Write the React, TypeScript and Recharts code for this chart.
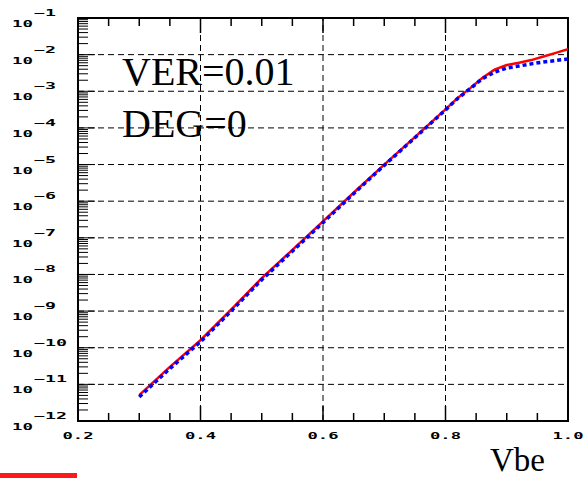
import {
  LineChart,
  Line,
  XAxis,
  YAxis,
  ReferenceLine,
  ReferenceArea,
} from 'recharts';

// Vbe sweep points (V)
const vbe = [
  0.3, 0.35, 0.4, 0.45, 0.5, 0.55, 0.6, 0.65, 0.7, 0.75, 0.8, 0.82, 0.84,
  0.86, 0.88, 0.9, 0.92, 0.94, 0.96, 0.98, 1.0,
];
// measured current (red, solid)
const measured = [
  5.1e-12, 3.0e-11, 1.6e-10, 1.1e-9, 7.9e-9, 4.7e-8, 2.8e-7, 1.7e-6, 1.0e-5,
  5.6e-5, 3.2e-4, 6.6e-4, 1.2e-3, 2.3e-3, 3.9e-3, 5.2e-3, 6.0e-3, 7.1e-3,
  8.9e-3, 1.12e-2, 1.41e-2,
];
// simulated current (blue, dotted)
const simulated = [
  4.5e-12, 2.7e-11, 1.45e-10, 1.0e-9, 7.2e-9, 4.3e-8, 2.6e-7, 1.6e-6, 9.5e-6,
  5.4e-5, 3.1e-4, 6.4e-4, 1.17e-3, 2.2e-3, 3.3e-3, 4.3e-3, 4.9e-3, 5.6e-3,
  6.3e-3, 6.9e-3, 7.6e-3,
];

const xTicks = [
  0.2, 0.25, 0.3, 0.35, 0.4, 0.45, 0.5, 0.55, 0.6, 0.65, 0.7, 0.75, 0.8, 0.85,
  0.9, 0.95, 1.0,
];
const xMajor = [0.2, 0.4, 0.6, 0.8, 1.0];
const xLabels = ['0.2', '0.4', '0.6', '0.8', '1.0'];
const xGrid = [0.4, 0.6, 0.8];

const decades = [-12, -11, -10, -9, -8, -7, -6, -5, -4, -3, -2, -1];
const mantissas = [2, 3, 4, 5, 6, 7, 8, 9];
const yGrid = [1e-11, 1e-10, 1e-9, 1e-8, 1e-7, 1e-6, 1e-5, 1e-4, 1e-3, 1e-2];

const yTicks: number[] = [];
decades.forEach((e) => {
  yTicks.push(Number(Math.pow(10, e).toPrecision(3)));
  if (e < -1) {
    mantissas.forEach((m) => yTicks.push(Number((m * Math.pow(10, e)).toPrecision(3))));
  }
});

const chartData = vbe.map((v, i) => ({
  vbe: v,
  measured: measured[i],
  simulated: simulated[i],
}));

const W = 583;
const H = 479;
const PLOT_LEFT = 78;
const PLOT_TOP = 18;
const PLOT_RIGHT = 568;
const PLOT_BOTTOM = 421;

const tickFont = {
  fontFamily: 'DejaVu Sans Mono',
  fontWeight: 'bold' as const,
  fontSize: 9,
  fill: '#000',
};

const XTick = (props: any) => {
  const { payload } = props;
  const x = payload.coordinate;
  const idx = xMajor.findIndex((m) => Math.abs(m - payload.value) < 1e-6);
  const major = idx >= 0;
  const len = major ? 15 : 8;
  return (
    <g>
      <line x1={x} x2={x} y1={PLOT_BOTTOM} y2={PLOT_BOTTOM - len} stroke="#000" strokeWidth={1.5} />
      <line x1={x} x2={x} y1={PLOT_TOP} y2={PLOT_TOP + len} stroke="#000" strokeWidth={1.5} />
      {major && (
        <text
          x={x - 15.5}
          y={439}
          textLength={31}
          lengthAdjust="spacingAndGlyphs"
          {...tickFont}
        >
          {xLabels[idx]}
        </text>
      )}
    </g>
  );
};

const YTick = (props: any) => {
  const { payload } = props;
  const y = payload.coordinate;
  const exp = Math.log10(payload.value);
  const isDecade = Math.abs(exp - Math.round(exp)) < 1e-6;
  const len = isDecade ? 17 : 10;
  const expText = '\u2212' + String(-Math.round(exp));
  return (
    <g>
      <line x1={PLOT_LEFT} x2={PLOT_LEFT + len} y1={y} y2={y} stroke="#000" strokeWidth={1} />
      {isDecade && (
        <>
          <text x={12} y={y + 9} textLength={21} lengthAdjust="spacingAndGlyphs" {...tickFont}>
            10
          </text>
          <text
            x={34}
            y={y - 2}
            textLength={expText.length * 11}
            lengthAdjust="spacingAndGlyphs"
            {...tickFont}
          >
            {expText}
          </text>
        </>
      )}
    </g>
  );
};

const App = () => {
  return (
    <div
      style={{
        position: 'absolute',
        left: 0,
        top: 0,
        width: W,
        height: H,
        background: '#fff',
        overflow: 'hidden',
      }}
    >
      <LineChart
        width={W}
        height={H}
        data={chartData}
        margin={{ top: PLOT_TOP, right: W - PLOT_RIGHT, left: 0, bottom: 0 }}
      >
        <XAxis
          dataKey="vbe"
          type="number"
          domain={[0.2, 1.0]}
          ticks={xTicks}
          interval={0}
          allowDataOverflow
          axisLine={false}
          tickLine={false}
          height={H - PLOT_BOTTOM}
          tick={<XTick />}
        />
        <YAxis
          type="number"
          scale="log"
          domain={[1e-12, 1e-1]}
          ticks={yTicks}
          interval={0}
          allowDataOverflow
          axisLine={false}
          tickLine={false}
          width={PLOT_LEFT}
          tick={<YTick />}
        />
        {yGrid.map((g) => (
          <ReferenceLine key={'h' + g} y={g} stroke="#000" strokeWidth={1} strokeDasharray="6 4" />
        ))}
        {xGrid.map((g) => (
          <ReferenceLine key={'v' + g} x={g} stroke="#000" strokeWidth={1} strokeDasharray="6 4" />
        ))}
        <ReferenceArea
          x1={0.2}
          x2={1.0}
          y1={1e-12}
          y2={1e-1}
          fill="none"
          fillOpacity={0}
          stroke="#000"
          strokeWidth={2}
        />
        <Line
          type="linear"
          dataKey="measured"
          stroke="#ff0000"
          strokeWidth={2.5}
          dot={false}
          isAnimationActive={false}
        />
        <Line
          type="linear"
          dataKey="simulated"
          stroke="#0000ff"
          strokeWidth={3.5}
          strokeDasharray="4 3"
          dot={false}
          isAnimationActive={false}
        />
      </LineChart>
      <svg
        width={W}
        height={H}
        style={{ position: 'absolute', left: 0, top: 0, pointerEvents: 'none' }}
      >
        <text x={122} y={85} fontFamily="Liberation Serif" fontSize={40} fill="#000">
          VER=0.01
        </text>
        <text x={122} y={137} fontFamily="Liberation Serif" fontSize={40} fill="#000">
          DEG=0
        </text>
        <text x={490} y={471} fontFamily="Liberation Serif" fontSize={33} fill="#000">
          Vbe
        </text>
        <rect x={0} y={473} width={77} height={5} fill="#ff1a1a" />
      </svg>
    </div>
  );
};

export default App;
